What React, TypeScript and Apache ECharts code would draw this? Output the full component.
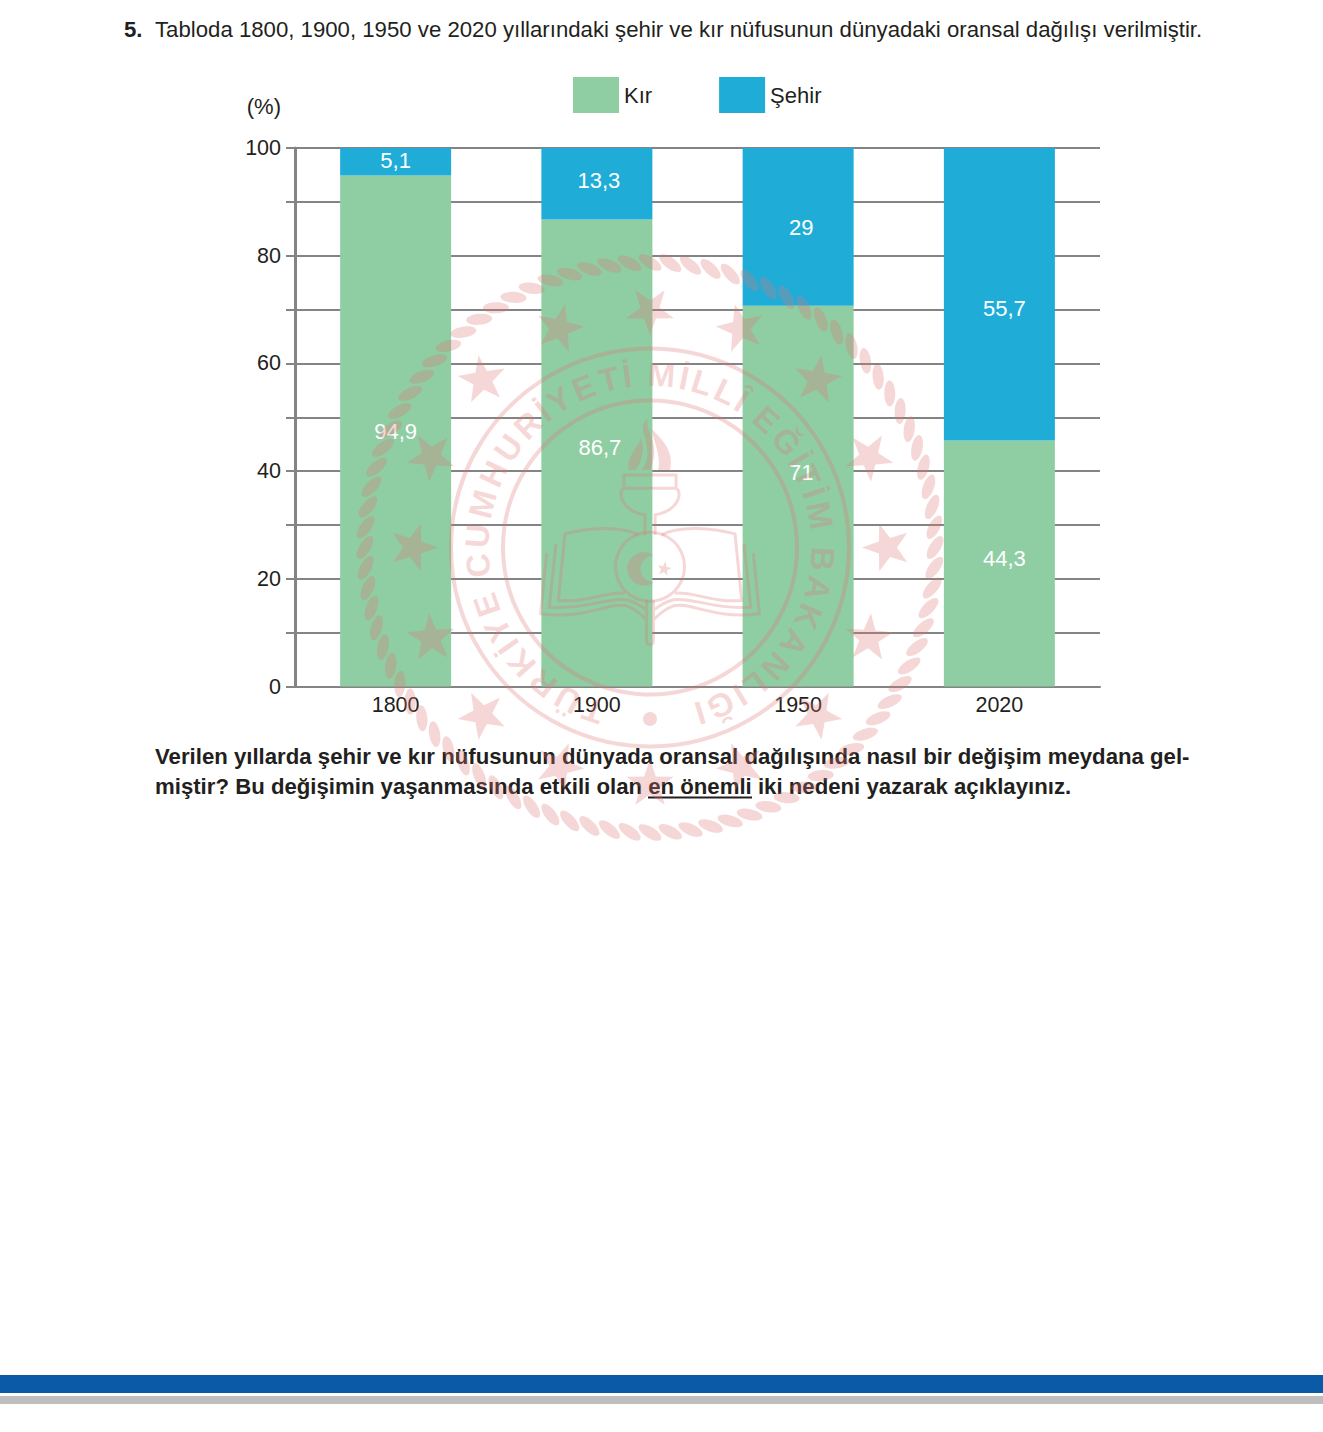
import React, { useEffect, useRef } from "react";
import * as echarts from "echarts";

const years = ["1800", "1900", "1950", "2020"];
const rural = [94.9, 86.7, 70.7, 45.7];
const urban = [5.1, 13.3, 29.3, 54.3];
const ruralLabels = ["94,9", "86,7", "71", "44,3"];
const urbanLabels = ["5,1", "13,3", "29", "55,7"];
const ruralLabelOffsets = [[0, 1], [3, -6], [3, -24], [5, -5]];
const urbanLabelOffsets = [[0, -1], [2, -3], [3, 1], [5, 14]];
const questionNumber = "5.";
const intro = "Tabloda 1800, 1900, 1950 ve 2020 yıllarındaki şehir ve kır nüfusunun dünyadaki oransal dağılışı verilmiştir.";
const q1 = "Verilen yıllarda şehir ve kır nüfusunun dünyada oransal dağılışında nasıl bir değişim meydana gel-";
const q2 = "miştir? Bu değişimin yaşanmasında etkili olan en önemli iki nedeni yazarak açıklayınız.";
const sealText = "TÜRKİYE CUMHURİYETİ MİLLÎ EĞİTİM BAKANLIĞI";

const FONT = "'Liberation Sans', Arial, sans-serif";
const INK = "#231f20";
const GREEN = "#8fcda3";
const BLUE = "#1fadd8";
const GRAY = "#848484";
const SEAL = "rgba(224,118,118,0.29)";
const CX = 650;
const CY = 547.5;

const HALF_STROKE =
  "M360 195 L282 195 L282 235 L360 235 M282 235 C262 245 272 302 345 315 L345 375 " +
  "M350 570 L350 690 Q350 705 360 705 " +
  "M325 375 C270 345 170 355 105 372 L85 572 C170 580 230 545 285 550 " +
  "M78 402 L58 592 C170 600 240 560 290 570 C310 575 335 590 348 600 " +
  "M50 430 L32 612 C170 630 240 575 290 588 C310 595 335 615 348 628";
const SEAL_FILL =
  "M297 180 C288 140 320 120 333 85 C345 115 338 150 318 180 Z " +
  "M335 180 C365 140 350 110 342 70 C335 50 340 35 355 28 C345 50 365 70 370 100 C378 130 370 160 360 180 Z " +
  "M385 180 C395 140 370 90 365 58 C395 85 435 125 420 180 Z " +
  "M372 437 A50 50 0 1 0 372 517 A36 36 0 1 1 372 437 Z";
echarts.graphic.registerShape("sealHalf", echarts.graphic.extendPath(HALF_STROKE, {}) as any);
echarts.graphic.registerShape("sealFill", echarts.graphic.extendPath(SEAL_FILL, {}) as any);

function starPoints(cx: number, cy: number, R: number, deg: number) {
  const pts: number[][] = [];
  for (let i = 0; i < 10; i++) {
    const a = ((deg + i * 36) * Math.PI) / 180;
    const r = i % 2 === 0 ? R : R * 0.4;
    pts.push([cx + r * Math.sin(a), cy - r * Math.cos(a)]);
  }
  return pts;
}

function sealElements() {
  const els: any[] = [];
  const z = 100;
  // rope
  const ropeCount = 88;
  for (let i = 0; i < ropeCount; i++) {
    const t = (i / ropeCount) * Math.PI * 2;
    els.push({
      type: "ellipse", z, silent: true,
      x: CX + 285 * Math.sin(t), y: CY - 285 * Math.cos(t),
      rotation: -(t + (32 * Math.PI) / 180),
      shape: { cx: 0, cy: 0, rx: 13, ry: 5.5 },
      style: { fill: SEAL },
    });
  }
  // stars
  for (let i = 0; i < 16; i++) {
    const deg = i * 22.5;
    const t = (deg * Math.PI) / 180;
    els.push({
      type: "polygon", z, silent: true,
      shape: { points: starPoints(CX + 237 * Math.sin(t), CY - 237 * Math.cos(t), 25, deg + 180) },
      style: { fill: SEAL },
    });
  }
  // rings
  [199, 147].forEach((r) =>
    els.push({ type: "circle", z, silent: true, shape: { cx: CX, cy: CY, r }, style: { fill: "none", stroke: SEAL, lineWidth: 4 } })
  );
  // dot
  els.push({ type: "circle", z, silent: true, shape: { cx: CX, cy: 719, r: 7 }, style: { fill: SEAL } });
  // lettering along the ring
  const font = `bold 33px ${FONT}`;
  const ctx = document.createElement("canvas").getContext("2d")!;
  ctx.font = font;
  const chars = Array.from(sealText);
  const widths = chars.map((c) => ctx.measureText(c).width);
  const total = widths.reduce((a, b) => a + b, 0);
  const startDeg = -165;
  const spanDeg = 330;
  let run = 0;
  chars.forEach((c, i) => {
    const mid = run + widths[i] / 2;
    run += widths[i];
    const t = ((startDeg + (mid / total) * spanDeg) * Math.PI) / 180;
    if (c === " ") return;
    els.push({
      type: "text", z, silent: true,
      x: CX + 173 * Math.sin(t), y: CY - 173 * Math.cos(t),
      rotation: -t,
      style: { text: c, font, fill: SEAL, align: "center", verticalAlign: "middle" },
    });
  });
  // emblem
  els.push({ type: "circle", z, silent: true, shape: { cx: CX, cy: 566.7, r: 34.5 }, style: { fill: "none", stroke: SEAL, lineWidth: 3 } });
  els.push({ type: "sealHalf", z, silent: true, x: 530, y: 410, scaleX: 1 / 3, scaleY: 1 / 3, style: { fill: "none", stroke: SEAL, lineWidth: 9 } });
  els.push({ type: "sealHalf", z, silent: true, x: 770, y: 410, scaleX: -1 / 3, scaleY: 1 / 3, style: { fill: "none", stroke: SEAL, lineWidth: 9 } });
  els.push({ type: "sealFill", z, silent: true, x: 530, y: 410, scaleX: 1 / 3, scaleY: 1 / 3, style: { fill: SEAL } });
  els.push({ type: "polygon", z, silent: true, shape: { points: starPoints(664.3, 569, 7.5, 10) }, style: { fill: SEAL } });
  return els;
}

function pageElements() {
  const text = (x: number, y: number, t: string, bold: boolean) => ({
    type: "text", x, y, z: 50, silent: true,
    style: { text: t, font: `${bold ? "bold " : ""}22.2px ${FONT}`, fill: INK, verticalAlign: "middle" },
  });
  return [
    text(124, 29.5, questionNumber, true),
    text(155, 29.5, intro, false),
    text(155, 756, q1, true),
    text(155, 786, q2, true),
    { type: "rect", z: 50, silent: true, shape: { x: 648, y: 796.5, width: 104, height: 2 }, style: { fill: INK } },
    { type: "rect", z: 50, silent: true, shape: { x: 0, y: 1375, width: 1323, height: 18 }, style: { fill: "#0a5aa8" } },
    { type: "rect", z: 50, silent: true, shape: { x: 0, y: 1396, width: 1323, height: 8 }, style: { fill: "#bebebf" } },
  ];
}

export default function App() {
  const ref = useRef<HTMLDivElement>(null);
  useEffect(() => {
    document.body.style.margin = "0";
    const chart = echarts.init(ref.current!, undefined, { renderer: "svg" });
    const barLabel = { show: true, position: "inside", color: "#fff", fontSize: 22, fontFamily: FONT };
    chart.setOption({
      animation: false,
      textStyle: { fontFamily: FONT },
      legend: {
        left: 573, top: 77, padding: 0, itemWidth: 46, itemHeight: 36, itemGap: 67, icon: "rect", selectedMode: false,
        textStyle: { color: INK, fontSize: 22, fontFamily: FONT },
        data: ["Kır", "Şehir"],
      },
      grid: { left: 295, top: 148, width: 805, height: 538.5 },
      xAxis: {
        type: "category", data: years,
        axisLine: { lineStyle: { color: GRAY, width: 2 } },
        axisTick: { show: false },
        axisLabel: { color: INK, fontSize: 21.5, fontFamily: FONT, margin: 7 },
      },
      yAxis: {
        type: "value", min: 0, max: 100, interval: 10,
        name: "(%)", nameLocation: "end", nameGap: 31,
        nameTextStyle: { color: INK, fontSize: 22, fontFamily: FONT, align: "right", padding: [0, 14, 0, 0] },
        axisLine: { show: true, lineStyle: { color: GRAY, width: 3 } },
        axisTick: { show: true, length: 9, lineStyle: { color: GRAY, width: 2 } },
        axisLabel: { color: INK, fontSize: 21.5, fontFamily: FONT, margin: 14, formatter: (v: number) => (v % 20 === 0 ? String(v) : "") },
        splitLine: { show: true, lineStyle: { color: GRAY, width: 2 } },
      },
      series: [
        {
          name: "Kır", type: "bar", stack: "total", barWidth: 111, itemStyle: { color: GREEN }, label: barLabel,
          data: rural.map((value, i) => ({ value, label: { offset: ruralLabelOffsets[i], formatter: ruralLabels[i] } })),
        },
        {
          name: "Şehir", type: "bar", stack: "total", barWidth: 111, itemStyle: { color: BLUE }, label: barLabel,
          data: urban.map((value, i) => ({ value, label: { offset: urbanLabelOffsets[i], formatter: urbanLabels[i] } })),
        },
      ],
      graphic: { elements: [...pageElements(), ...sealElements()] },
    });
    return () => chart.dispose();
  }, []);
  return <div ref={ref} style={{ width: 1323, height: 1432 }} />;
}
